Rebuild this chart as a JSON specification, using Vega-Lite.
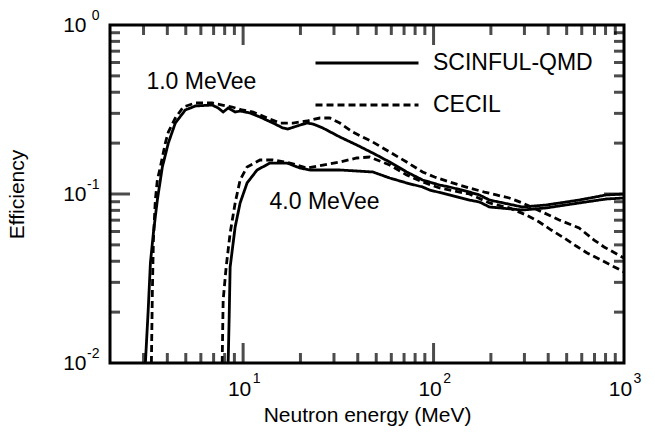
{
  "$schema": "https://vega.github.io/schema/vega-lite/v6.json",
  "width": 514,
  "height": 338,
  "autosize": {"type": "none"},
  "padding": {"left": 110, "top": 25, "right": 31, "bottom": 69},
  "config": {
    "view": {"stroke": "black", "strokeWidth": 3},
    "font": "Liberation Sans",
    "axis": {"grid": false, "domain": false, "labelColor": "black", "titleColor": "black", "labelFont": "Liberation Sans", "titleFont": "Liberation Sans", "labelFlush": false, "labelOverlap": false, "labelBound": false},
    "legend": {"labelFont": "Liberation Sans"}
  },
  "datasets": {
    "curves": [
      {"model": "SCINFUL-QMD", "threshold": "1.0 MeVee", "energy": 3.068, "efficiency": 0.01},
      {"model": "SCINFUL-QMD", "threshold": "1.0 MeVee", "energy": 3.17, "efficiency": 0.02},
      {"model": "SCINFUL-QMD", "threshold": "1.0 MeVee", "energy": 3.26, "efficiency": 0.0391},
      {"model": "SCINFUL-QMD", "threshold": "1.0 MeVee", "energy": 3.38, "efficiency": 0.0588},
      {"model": "SCINFUL-QMD", "threshold": "1.0 MeVee", "energy": 3.545, "efficiency": 0.0921},
      {"model": "SCINFUL-QMD", "threshold": "1.0 MeVee", "energy": 3.766, "efficiency": 0.1445},
      {"model": "SCINFUL-QMD", "threshold": "1.0 MeVee", "energy": 4.049, "efficiency": 0.2003},
      {"model": "SCINFUL-QMD", "threshold": "1.0 MeVee", "energy": 4.406, "efficiency": 0.263},
      {"model": "SCINFUL-QMD", "threshold": "1.0 MeVee", "energy": 4.97, "efficiency": 0.3141},
      {"model": "SCINFUL-QMD", "threshold": "1.0 MeVee", "energy": 5.608, "efficiency": 0.3317},
      {"model": "SCINFUL-QMD", "threshold": "1.0 MeVee", "energy": 6.883, "efficiency": 0.3362},
      {"model": "SCINFUL-QMD", "threshold": "1.0 MeVee", "energy": 7.397, "efficiency": 0.3227},
      {"model": "SCINFUL-QMD", "threshold": "1.0 MeVee", "energy": 7.857, "efficiency": 0.3056},
      {"model": "SCINFUL-QMD", "threshold": "1.0 MeVee", "energy": 8.346, "efficiency": 0.3227},
      {"model": "SCINFUL-QMD", "threshold": "1.0 MeVee", "energy": 9.082, "efficiency": 0.3056},
      {"model": "SCINFUL-QMD", "threshold": "1.0 MeVee", "energy": 9.645, "efficiency": 0.3098},
      {"model": "SCINFUL-QMD", "threshold": "1.0 MeVee", "energy": 10.88, "efficiency": 0.3015},
      {"model": "SCINFUL-QMD", "threshold": "1.0 MeVee", "energy": 12.27, "efficiency": 0.2855},
      {"model": "SCINFUL-QMD", "threshold": "1.0 MeVee", "energy": 14.36, "efficiency": 0.263},
      {"model": "SCINFUL-QMD", "threshold": "1.0 MeVee", "energy": 16.2, "efficiency": 0.2457},
      {"model": "SCINFUL-QMD", "threshold": "1.0 MeVee", "energy": 17.2, "efficiency": 0.2424},
      {"model": "SCINFUL-QMD", "threshold": "1.0 MeVee", "energy": 19.18, "efficiency": 0.2525},
      {"model": "SCINFUL-QMD", "threshold": "1.0 MeVee", "energy": 21.63, "efficiency": 0.263},
      {"model": "SCINFUL-QMD", "threshold": "1.0 MeVee", "energy": 23.26, "efficiency": 0.2595},
      {"model": "SCINFUL-QMD", "threshold": "1.0 MeVee", "energy": 26.24, "efficiency": 0.2457},
      {"model": "SCINFUL-QMD", "threshold": "1.0 MeVee", "energy": 32.2, "efficiency": 0.2175},
      {"model": "SCINFUL-QMD", "threshold": "1.0 MeVee", "energy": 39.53, "efficiency": 0.1949},
      {"model": "SCINFUL-QMD", "threshold": "1.0 MeVee", "energy": 47.93, "efficiency": 0.1748},
      {"model": "SCINFUL-QMD", "threshold": "1.0 MeVee", "energy": 58.84, "efficiency": 0.1546},
      {"model": "SCINFUL-QMD", "threshold": "1.0 MeVee", "energy": 72.24, "efficiency": 0.135},
      {"model": "SCINFUL-QMD", "threshold": "1.0 MeVee", "energy": 87.58, "efficiency": 0.121},
      {"model": "SCINFUL-QMD", "threshold": "1.0 MeVee", "energy": 107.5, "efficiency": 0.113},
      {"model": "SCINFUL-QMD", "threshold": "1.0 MeVee", "energy": 121.3, "efficiency": 0.11},
      {"model": "SCINFUL-QMD", "threshold": "1.0 MeVee", "energy": 154.3, "efficiency": 0.1027},
      {"model": "SCINFUL-QMD", "threshold": "1.0 MeVee", "energy": 174.1, "efficiency": 0.0987},
      {"model": "SCINFUL-QMD", "threshold": "1.0 MeVee", "energy": 196.5, "efficiency": 0.0921},
      {"model": "SCINFUL-QMD", "threshold": "1.0 MeVee", "energy": 292.4, "efficiency": 0.0838},
      {"model": "SCINFUL-QMD", "threshold": "1.0 MeVee", "energy": 390.5, "efficiency": 0.0861},
      {"model": "SCINFUL-QMD", "threshold": "1.0 MeVee", "energy": 581.4, "efficiency": 0.0921},
      {"model": "SCINFUL-QMD", "threshold": "1.0 MeVee", "energy": 805.2, "efficiency": 0.0987},
      {"model": "SCINFUL-QMD", "threshold": "1.0 MeVee", "energy": 1000, "efficiency": 0.1},

      {"model": "CECIL", "threshold": "1.0 MeVee", "energy": 3.299, "efficiency": 0.01},
      {"model": "CECIL", "threshold": "1.0 MeVee", "energy": 3.339, "efficiency": 0.027},
      {"model": "CECIL", "threshold": "1.0 MeVee", "energy": 3.38, "efficiency": 0.0534},
      {"model": "CECIL", "threshold": "1.0 MeVee", "energy": 3.46, "efficiency": 0.0921},
      {"model": "CECIL", "threshold": "1.0 MeVee", "energy": 3.545, "efficiency": 0.121},
      {"model": "CECIL", "threshold": "1.0 MeVee", "energy": 3.676, "efficiency": 0.1445},
      {"model": "CECIL", "threshold": "1.0 MeVee", "energy": 3.905, "efficiency": 0.2003},
      {"model": "CECIL", "threshold": "1.0 MeVee", "energy": 4.049, "efficiency": 0.2327},
      {"model": "CECIL", "threshold": "1.0 MeVee", "energy": 4.406, "efficiency": 0.2816},
      {"model": "CECIL", "threshold": "1.0 MeVee", "energy": 4.852, "efficiency": 0.3272},
      {"model": "CECIL", "threshold": "1.0 MeVee", "energy": 5.608, "efficiency": 0.3455},
      {"model": "CECIL", "threshold": "1.0 MeVee", "energy": 6.883, "efficiency": 0.3455},
      {"model": "CECIL", "threshold": "1.0 MeVee", "energy": 7.763, "efficiency": 0.3362},
      {"model": "CECIL", "threshold": "1.0 MeVee", "energy": 8.758, "efficiency": 0.3272},
      {"model": "CECIL", "threshold": "1.0 MeVee", "energy": 9.88, "efficiency": 0.3141},
      {"model": "CECIL", "threshold": "1.0 MeVee", "energy": 11.28, "efficiency": 0.3056},
      {"model": "CECIL", "threshold": "1.0 MeVee", "energy": 13.36, "efficiency": 0.2816},
      {"model": "CECIL", "threshold": "1.0 MeVee", "energy": 15.62, "efficiency": 0.263},
      {"model": "CECIL", "threshold": "1.0 MeVee", "energy": 18.27, "efficiency": 0.263},
      {"model": "CECIL", "threshold": "1.0 MeVee", "energy": 21.63, "efficiency": 0.2704},
      {"model": "CECIL", "threshold": "1.0 MeVee", "energy": 25.3, "efficiency": 0.2816},
      {"model": "CECIL", "threshold": "1.0 MeVee", "energy": 28.55, "efficiency": 0.2816},
      {"model": "CECIL", "threshold": "1.0 MeVee", "energy": 32.2, "efficiency": 0.263},
      {"model": "CECIL", "threshold": "1.0 MeVee", "energy": 37.66, "efficiency": 0.2327},
      {"model": "CECIL", "threshold": "1.0 MeVee", "energy": 47.93, "efficiency": 0.2031},
      {"model": "CECIL", "threshold": "1.0 MeVee", "energy": 58.84, "efficiency": 0.1772},
      {"model": "CECIL", "threshold": "1.0 MeVee", "energy": 72.24, "efficiency": 0.1546},
      {"model": "CECIL", "threshold": "1.0 MeVee", "energy": 87.58, "efficiency": 0.135},
      {"model": "CECIL", "threshold": "1.0 MeVee", "energy": 101.2, "efficiency": 0.126},
      {"model": "CECIL", "threshold": "1.0 MeVee", "energy": 121.3, "efficiency": 0.1178},
      {"model": "CECIL", "threshold": "1.0 MeVee", "energy": 154.3, "efficiency": 0.1085},
      {"model": "CECIL", "threshold": "1.0 MeVee", "energy": 184.9, "efficiency": 0.1027},
      {"model": "CECIL", "threshold": "1.0 MeVee", "energy": 213.7, "efficiency": 0.0987},
      {"model": "CECIL", "threshold": "1.0 MeVee", "energy": 250, "efficiency": 0.0947},
      {"model": "CECIL", "threshold": "1.0 MeVee", "energy": 292.4, "efficiency": 0.0885},
      {"model": "CECIL", "threshold": "1.0 MeVee", "energy": 381.3, "efficiency": 0.0772},
      {"model": "CECIL", "threshold": "1.0 MeVee", "energy": 456.7, "efficiency": 0.0702},
      {"model": "CECIL", "threshold": "1.0 MeVee", "energy": 581.4, "efficiency": 0.0629},
      {"model": "CECIL", "threshold": "1.0 MeVee", "energy": 696.6, "efficiency": 0.0534},
      {"model": "CECIL", "threshold": "1.0 MeVee", "energy": 786, "efficiency": 0.0486},
      {"model": "CECIL", "threshold": "1.0 MeVee", "energy": 1000, "efficiency": 0.0418},

      {"model": "SCINFUL-QMD", "threshold": "4.0 MeVee", "energy": 8.346, "efficiency": 0.01},
      {"model": "SCINFUL-QMD", "threshold": "4.0 MeVee", "energy": 8.45, "efficiency": 0.0187},
      {"model": "SCINFUL-QMD", "threshold": "4.0 MeVee", "energy": 8.549, "efficiency": 0.037},
      {"model": "SCINFUL-QMD", "threshold": "4.0 MeVee", "energy": 9.082, "efficiency": 0.0638},
      {"model": "SCINFUL-QMD", "threshold": "4.0 MeVee", "energy": 9.645, "efficiency": 0.0885},
      {"model": "SCINFUL-QMD", "threshold": "4.0 MeVee", "energy": 10.49, "efficiency": 0.1162},
      {"model": "SCINFUL-QMD", "threshold": "4.0 MeVee", "energy": 11.84, "efficiency": 0.1387},
      {"model": "SCINFUL-QMD", "threshold": "4.0 MeVee", "energy": 13.85, "efficiency": 0.1525},
      {"model": "SCINFUL-QMD", "threshold": "4.0 MeVee", "energy": 17, "efficiency": 0.1525},
      {"model": "SCINFUL-QMD", "threshold": "4.0 MeVee", "energy": 19.88, "efficiency": 0.1425},
      {"model": "SCINFUL-QMD", "threshold": "4.0 MeVee", "energy": 22.43, "efficiency": 0.1387},
      {"model": "SCINFUL-QMD", "threshold": "4.0 MeVee", "energy": 25.3, "efficiency": 0.1387},
      {"model": "SCINFUL-QMD", "threshold": "4.0 MeVee", "energy": 32.2, "efficiency": 0.1387},
      {"model": "SCINFUL-QMD", "threshold": "4.0 MeVee", "energy": 47.93, "efficiency": 0.135},
      {"model": "SCINFUL-QMD", "threshold": "4.0 MeVee", "energy": 58.84, "efficiency": 0.1244},
      {"model": "SCINFUL-QMD", "threshold": "4.0 MeVee", "energy": 72.24, "efficiency": 0.1162},
      {"model": "SCINFUL-QMD", "threshold": "4.0 MeVee", "energy": 87.58, "efficiency": 0.11},
      {"model": "SCINFUL-QMD", "threshold": "4.0 MeVee", "energy": 95.3, "efficiency": 0.1056},
      {"model": "SCINFUL-QMD", "threshold": "4.0 MeVee", "energy": 121.3, "efficiency": 0.0987},
      {"model": "SCINFUL-QMD", "threshold": "4.0 MeVee", "energy": 154.3, "efficiency": 0.0921},
      {"model": "SCINFUL-QMD", "threshold": "4.0 MeVee", "energy": 174.1, "efficiency": 0.0897},
      {"model": "SCINFUL-QMD", "threshold": "4.0 MeVee", "energy": 196.5, "efficiency": 0.0838},
      {"model": "SCINFUL-QMD", "threshold": "4.0 MeVee", "energy": 292.4, "efficiency": 0.0804},
      {"model": "SCINFUL-QMD", "threshold": "4.0 MeVee", "energy": 390.5, "efficiency": 0.0827},
      {"model": "SCINFUL-QMD", "threshold": "4.0 MeVee", "energy": 581.4, "efficiency": 0.0885},
      {"model": "SCINFUL-QMD", "threshold": "4.0 MeVee", "energy": 805.2, "efficiency": 0.0934},
      {"model": "SCINFUL-QMD", "threshold": "4.0 MeVee", "energy": 1000, "efficiency": 0.0947},

      {"model": "CECIL", "threshold": "4.0 MeVee", "energy": 7.763, "efficiency": 0.01},
      {"model": "CECIL", "threshold": "4.0 MeVee", "energy": 7.857, "efficiency": 0.0236},
      {"model": "CECIL", "threshold": "4.0 MeVee", "energy": 8.147, "efficiency": 0.037},
      {"model": "CECIL", "threshold": "4.0 MeVee", "energy": 8.549, "efficiency": 0.0588},
      {"model": "CECIL", "threshold": "4.0 MeVee", "energy": 9.082, "efficiency": 0.0885},
      {"model": "CECIL", "threshold": "4.0 MeVee", "energy": 9.645, "efficiency": 0.121},
      {"model": "CECIL", "threshold": "4.0 MeVee", "energy": 10.49, "efficiency": 0.1445},
      {"model": "CECIL", "threshold": "4.0 MeVee", "energy": 12.27, "efficiency": 0.1589},
      {"model": "CECIL", "threshold": "4.0 MeVee", "energy": 14.36, "efficiency": 0.1589},
      {"model": "CECIL", "threshold": "4.0 MeVee", "energy": 17.63, "efficiency": 0.1525},
      {"model": "CECIL", "threshold": "4.0 MeVee", "energy": 21.63, "efficiency": 0.1425},
      {"model": "CECIL", "threshold": "4.0 MeVee", "energy": 26.24, "efficiency": 0.1484},
      {"model": "CECIL", "threshold": "4.0 MeVee", "energy": 32.2, "efficiency": 0.1546},
      {"model": "CECIL", "threshold": "4.0 MeVee", "energy": 39.53, "efficiency": 0.1633},
      {"model": "CECIL", "threshold": "4.0 MeVee", "energy": 46.23, "efficiency": 0.1655},
      {"model": "CECIL", "threshold": "4.0 MeVee", "energy": 58.84, "efficiency": 0.1484},
      {"model": "CECIL", "threshold": "4.0 MeVee", "energy": 72.24, "efficiency": 0.1296},
      {"model": "CECIL", "threshold": "4.0 MeVee", "energy": 87.58, "efficiency": 0.1178},
      {"model": "CECIL", "threshold": "4.0 MeVee", "energy": 107.5, "efficiency": 0.1085},
      {"model": "CECIL", "threshold": "4.0 MeVee", "energy": 154.3, "efficiency": 0.1},
      {"model": "CECIL", "threshold": "4.0 MeVee", "energy": 196.5, "efficiency": 0.0885},
      {"model": "CECIL", "threshold": "4.0 MeVee", "energy": 250, "efficiency": 0.0827},
      {"model": "CECIL", "threshold": "4.0 MeVee", "energy": 306.9, "efficiency": 0.0751},
      {"model": "CECIL", "threshold": "4.0 MeVee", "energy": 358.9, "efficiency": 0.0683},
      {"model": "CECIL", "threshold": "4.0 MeVee", "energy": 414.8, "efficiency": 0.0612},
      {"model": "CECIL", "threshold": "4.0 MeVee", "energy": 485.2, "efficiency": 0.0549},
      {"model": "CECIL", "threshold": "4.0 MeVee", "energy": 560.8, "efficiency": 0.0492},
      {"model": "CECIL", "threshold": "4.0 MeVee", "energy": 640.3, "efficiency": 0.0448},
      {"model": "CECIL", "threshold": "4.0 MeVee", "energy": 739.9, "efficiency": 0.0412},
      {"model": "CECIL", "threshold": "4.0 MeVee", "energy": 1000, "efficiency": 0.0346}
    ],
    "notes": [
      {"energy": 3.105, "efficiency": 0.4624, "label": "1.0 MeVee"},
      {"energy": 13.76, "efficiency": 0.0897, "label": "4.0 MeVee"}
    ],
    "xticks": [
      {"value": 3, "kind": "minor"}, {"value": 4, "kind": "minor"}, {"value": 5, "kind": "minor"}, {"value": 6, "kind": "minor"}, {"value": 7, "kind": "minor"}, {"value": 8, "kind": "minor"}, {"value": 9, "kind": "minor"},
      {"value": 10, "kind": "major"},
      {"value": 20, "kind": "minor"}, {"value": 30, "kind": "minor"}, {"value": 40, "kind": "minor"}, {"value": 50, "kind": "minor"}, {"value": 60, "kind": "minor"}, {"value": 70, "kind": "minor"}, {"value": 80, "kind": "minor"}, {"value": 90, "kind": "minor"},
      {"value": 100, "kind": "major"},
      {"value": 200, "kind": "minor"}, {"value": 300, "kind": "minor"}, {"value": 400, "kind": "minor"}, {"value": 500, "kind": "minor"}, {"value": 600, "kind": "minor"}, {"value": 700, "kind": "minor"}, {"value": 800, "kind": "minor"}, {"value": 900, "kind": "minor"}
    ],
    "yticks": [
      {"value": 0.02, "kind": "minor"}, {"value": 0.03, "kind": "minor"}, {"value": 0.04, "kind": "minor"}, {"value": 0.05, "kind": "minor"}, {"value": 0.06, "kind": "minor"}, {"value": 0.07, "kind": "minor"}, {"value": 0.08, "kind": "minor"}, {"value": 0.09, "kind": "minor"},
      {"value": 0.1, "kind": "major"},
      {"value": 0.2, "kind": "minor"}, {"value": 0.3, "kind": "minor"}, {"value": 0.4, "kind": "minor"}, {"value": 0.5, "kind": "minor"}, {"value": 0.6, "kind": "minor"}, {"value": 0.7, "kind": "minor"}, {"value": 0.8, "kind": "minor"}, {"value": 0.9, "kind": "minor"}
    ]
  },
  "resolve": {"axis": {"x": "independent", "y": "independent"}},
  "layer": [
    {
      "data": {"name": "xticks"},
      "transform": [{"filter": "datum.kind == 'minor'"}],
      "mark": {"type": "tick", "orient": "vertical", "size": 10, "thickness": 3, "color": "black"},
      "encoding": {
        "x": {"field": "value", "type": "quantitative", "scale": {"type": "log", "domain": [2, 1000], "nice": false}, "axis": null},
        "y": {"datum": 0.010705, "type": "quantitative", "scale": {"type": "log", "domain": [0.01, 1], "nice": false}, "axis": null}
      }
    },
    {
      "data": {"name": "xticks"},
      "transform": [{"filter": "datum.kind == 'major'"}],
      "mark": {"type": "tick", "orient": "vertical", "size": 20, "thickness": 3, "color": "black"},
      "encoding": {
        "x": {"field": "value", "type": "quantitative", "axis": null},
        "y": {"datum": 0.011459, "type": "quantitative", "axis": null}
      }
    },
    {
      "data": {"name": "xticks"},
      "transform": [{"filter": "datum.kind == 'minor'"}],
      "mark": {"type": "tick", "orient": "vertical", "size": 10, "thickness": 3, "color": "black"},
      "encoding": {
        "x": {"field": "value", "type": "quantitative", "axis": null},
        "y": {"datum": 0.9341, "type": "quantitative", "axis": null}
      }
    },
    {
      "data": {"name": "xticks"},
      "transform": [{"filter": "datum.kind == 'major'"}],
      "mark": {"type": "tick", "orient": "vertical", "size": 20, "thickness": 3, "color": "black"},
      "encoding": {
        "x": {"field": "value", "type": "quantitative", "axis": null},
        "y": {"datum": 0.8727, "type": "quantitative", "axis": null}
      }
    },
    {
      "data": {"name": "yticks"},
      "transform": [{"filter": "datum.kind == 'minor'"}],
      "mark": {"type": "tick", "orient": "horizontal", "size": 10, "thickness": 3, "color": "black"},
      "encoding": {
        "y": {"field": "value", "type": "quantitative", "axis": null},
        "x": {"datum": 2.1245, "type": "quantitative", "axis": null}
      }
    },
    {
      "data": {"name": "yticks"},
      "transform": [{"filter": "datum.kind == 'major'"}],
      "mark": {"type": "tick", "orient": "horizontal", "size": 20, "thickness": 3, "color": "black"},
      "encoding": {
        "y": {"field": "value", "type": "quantitative", "axis": null},
        "x": {"datum": 2.257, "type": "quantitative", "axis": null}
      }
    },
    {
      "data": {"name": "yticks"},
      "transform": [{"filter": "datum.kind == 'minor'"}],
      "mark": {"type": "tick", "orient": "horizontal", "size": 10, "thickness": 3, "color": "black"},
      "encoding": {
        "y": {"field": "value", "type": "quantitative", "axis": null},
        "x": {"datum": 941.3, "type": "quantitative", "axis": null}
      }
    },
    {
      "data": {"name": "yticks"},
      "transform": [{"filter": "datum.kind == 'major'"}],
      "mark": {"type": "tick", "orient": "horizontal", "size": 20, "thickness": 3, "color": "black"},
      "encoding": {
        "y": {"field": "value", "type": "quantitative", "axis": null},
        "x": {"datum": 886.2, "type": "quantitative", "axis": null}
      }
    },
    {
      "data": {"name": "curves"},
      "mark": {"type": "line", "strokeWidth": 2.8, "color": "black", "clip": true},
      "encoding": {
        "x": {"field": "energy", "type": "quantitative", "scale": {"type": "log", "domain": [2, 1000], "nice": false},
          "axis": {"orient": "bottom", "values": [10, 100, 1000], "labelExpr": "'10'", "ticks": false, "labelFontSize": 21, "labelPadding": 15, "labelOffset": -4, "title": "Neutron energy (MeV)", "titleFontSize": 21, "titleFontWeight": "normal", "titlePadding": 5}},
        "y": {"field": "efficiency", "type": "quantitative", "scale": {"type": "log", "domain": [0.01, 1], "nice": false},
          "axis": {"orient": "left", "values": [0.01, 0.1, 1], "labelExpr": "'10'", "ticks": false, "labelFontSize": 21, "labelPadding": 24, "labelOffset": 0, "title": "Efficiency", "titleFontSize": 21, "titleFontWeight": "normal", "titlePadding": 35}},
        "strokeDash": {"field": "model", "type": "nominal",
          "scale": {"domain": ["SCINFUL-QMD", "CECIL"], "range": [[1, 0], [7, 4]]},
          "legend": {"orient": "none", "legendX": 204, "legendY": 26, "title": null, "padding": 0, "symbolType": "stroke", "symbolSize": 10609, "symbolStrokeWidth": 3, "symbolStrokeColor": "black", "labelFontSize": 23, "labelColor": "black", "labelOffset": 13, "clipHeight": 24, "rowPadding": 18, "symbolOffset": 0}},
        "detail": {"field": "threshold", "type": "nominal"}
      }
    },
    {
      "data": {"name": "notes"},
      "mark": {"type": "text", "align": "left", "baseline": "middle", "fontSize": 23, "font": "Liberation Sans", "color": "black"},
      "encoding": {
        "x": {"field": "energy", "type": "quantitative",
          "axis": {"orient": "bottom", "values": [10, 100, 1000], "labelExpr": "format(log(datum.value)/log(10), '.0f')", "ticks": false, "labelFontSize": 14, "labelPadding": 8, "labelOffset": 13, "title": null}},
        "y": {"field": "efficiency", "type": "quantitative",
          "axis": {"orient": "left", "values": [0.01, 0.1, 1], "labelExpr": "datum.value < 0.05 ? '-2' : datum.value < 0.5 ? '-1' : '0'", "ticks": false, "labelFontSize": 14, "labelPadding": 11, "labelOffset": -10, "title": null}},
        "text": {"field": "label", "type": "nominal"}
      }
    }
  ]
}
